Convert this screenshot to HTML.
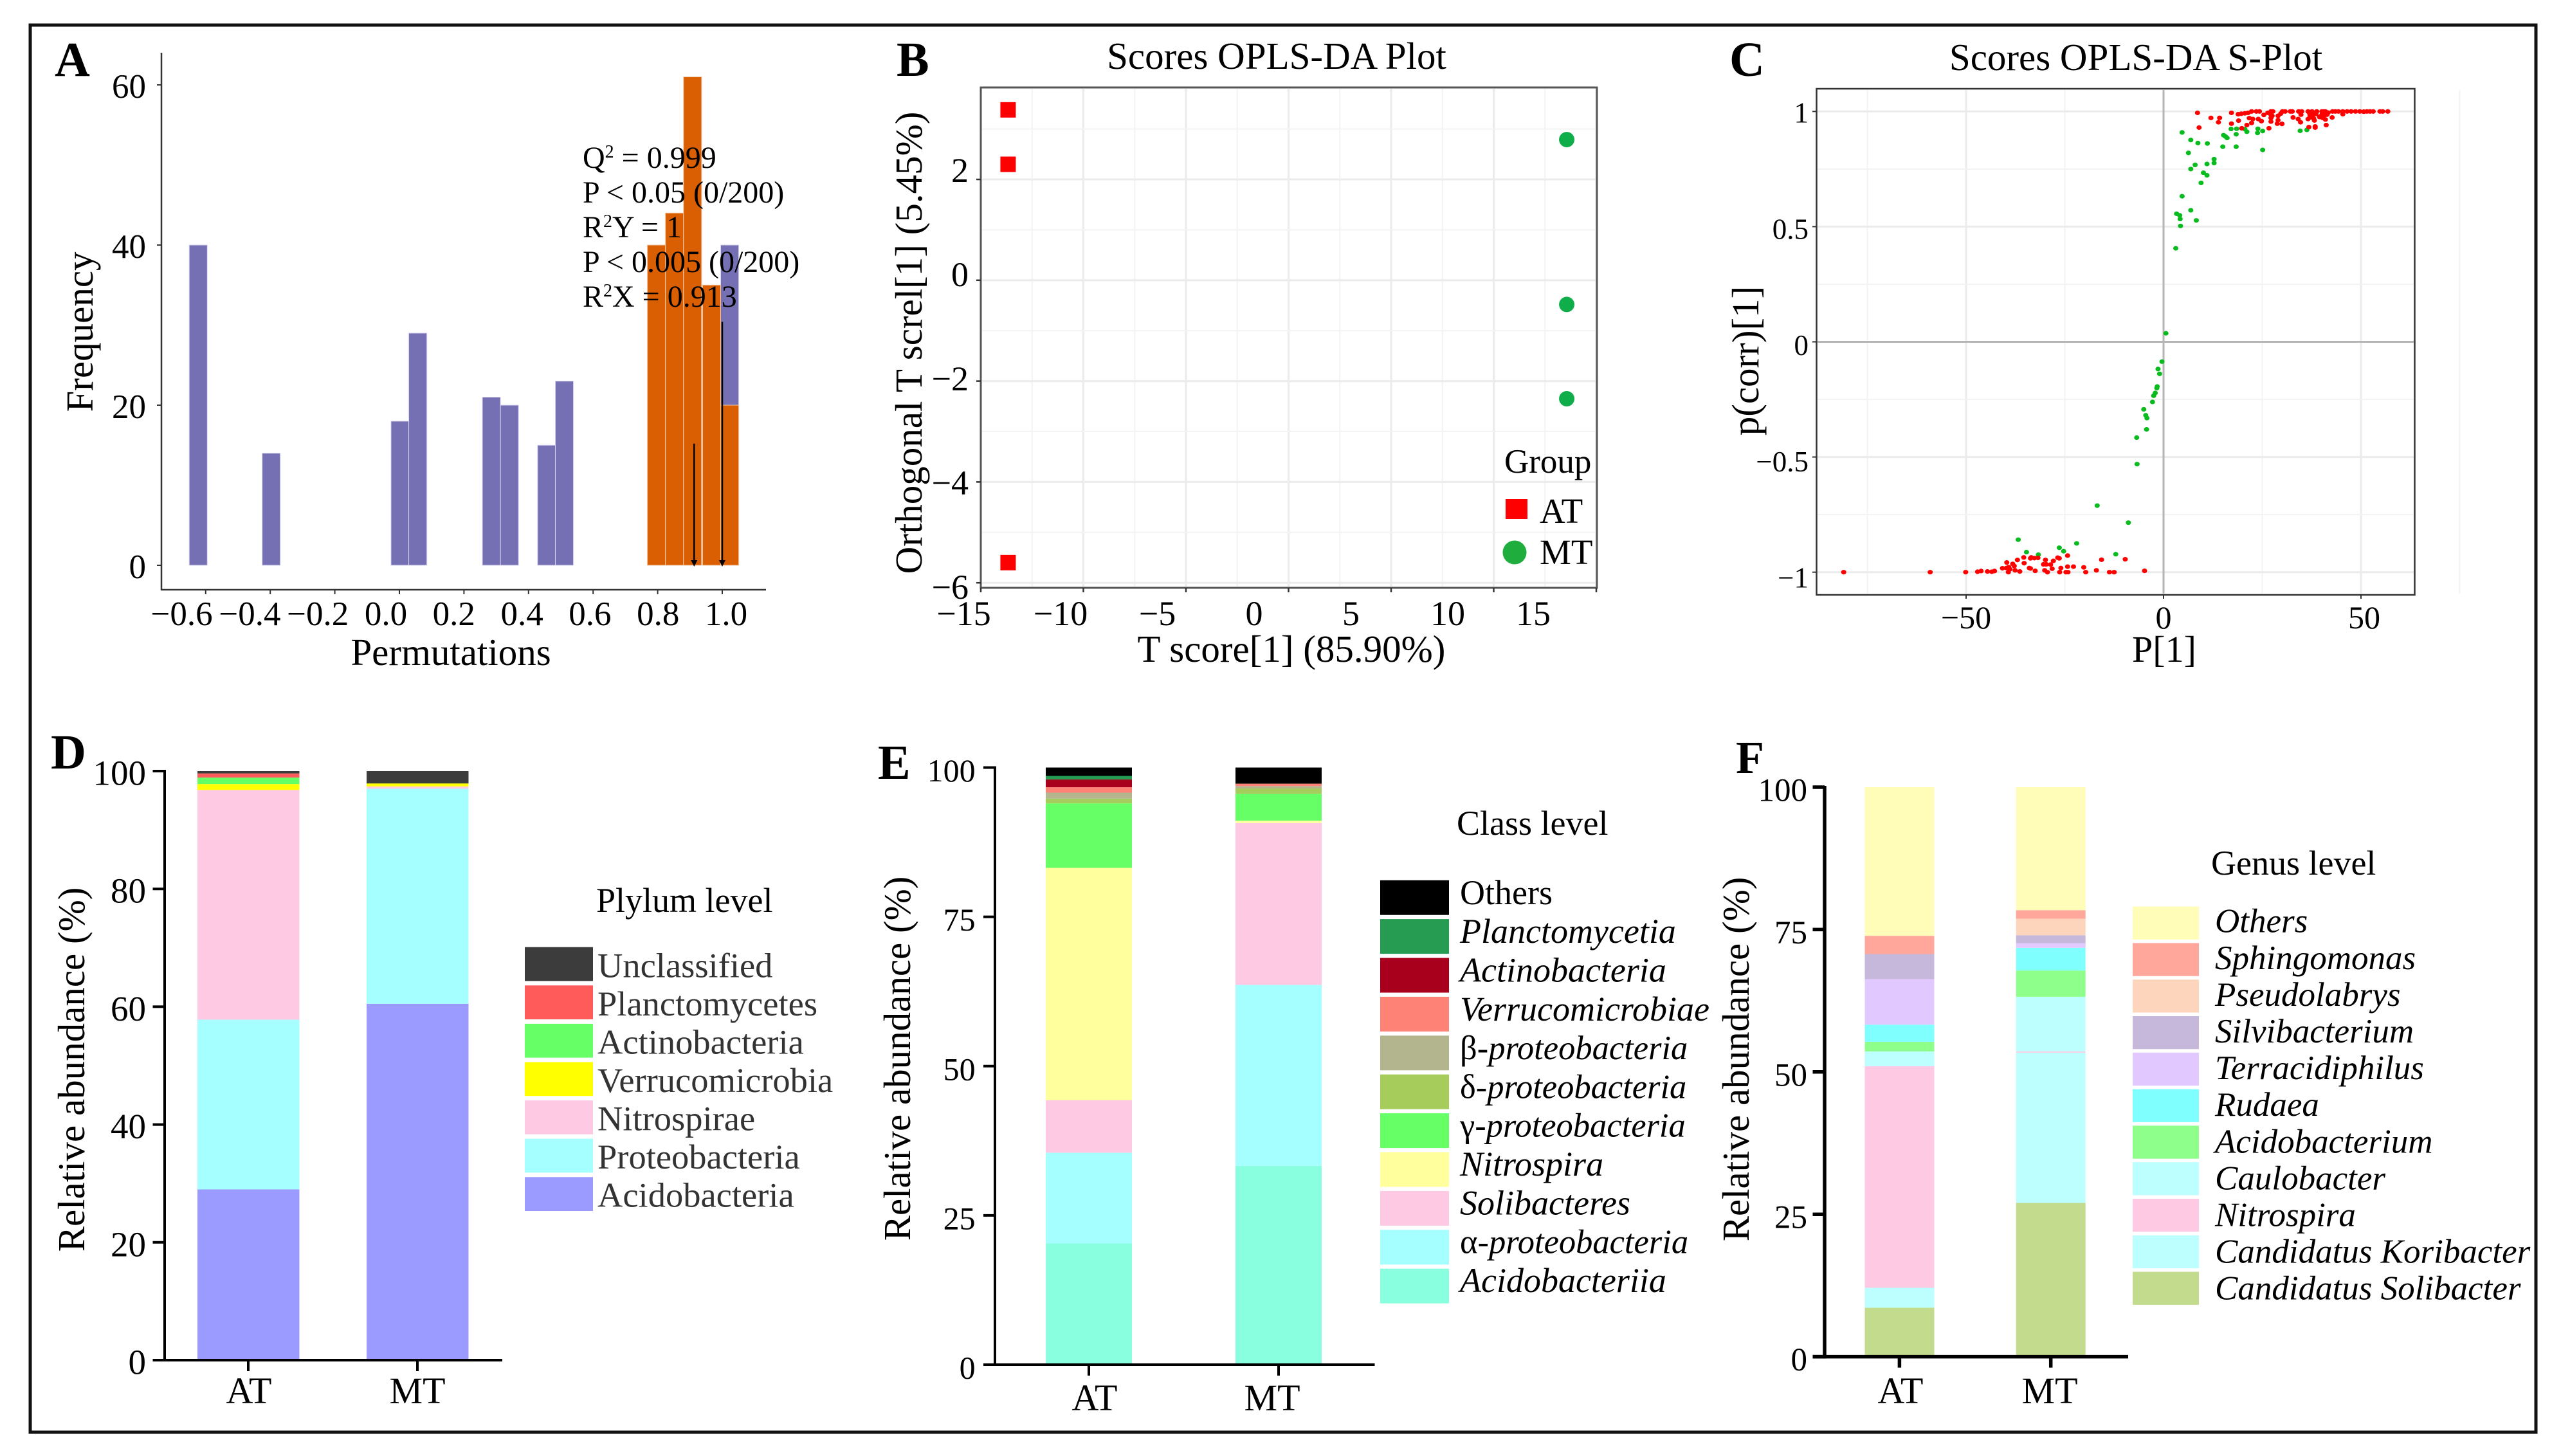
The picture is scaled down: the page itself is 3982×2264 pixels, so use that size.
<!DOCTYPE html>
<html lang="en">
<head>
<meta charset="utf-8">
<title>OPLS-DA and relative abundance figure</title>
<style>
html,body{margin:0;padding:0;background:#fff;width:3982px;height:2264px;overflow:hidden}
svg{display:block}
text{font-family:"Liberation Serif","DejaVu Serif",serif;fill:#000}
</style>
</head>
<body>
<svg id="fig" xmlns="http://www.w3.org/2000/svg" width="3982" height="2264" viewBox="0 0 3982 2264">
  <rect x="0" y="0" width="3982" height="2264" fill="#fff"/>
  <rect x="47" y="39" width="3896" height="2188" fill="none" stroke="#111" stroke-width="5"/>
  <g id="marks"></g>

  <!-- Panel letters -->
  <text x="85" y="118" font-size="76" font-weight="bold">A</text>
  <text x="1394" y="118" font-size="76" font-weight="bold">B</text>
  <text x="2689" y="118" font-size="76" font-weight="bold">C</text>
  <text x="79" y="1195" font-size="76" font-weight="bold">D</text>
  <text x="1365" y="1211" font-size="76" font-weight="bold">E</text>
  <text x="2699" y="1202" font-size="72" font-weight="bold">F</text>

  <!-- Panel A text -->
  <text transform="rotate(-90 144 516)" x="144" y="516" font-size="59" text-anchor="middle">Frequency</text>
  <text x="701" y="1034" font-size="59" text-anchor="middle">Permutations</text>
  <g font-size="48">
    <text x="906" y="261">Q<tspan font-size="28" dy="-16">2</tspan><tspan dy="16"> = 0.999</tspan></text>
    <text x="906" y="315">P &lt; 0.05 (0/200)</text>
    <text x="906" y="369">R<tspan font-size="28" dy="-16">2</tspan><tspan dy="16">Y = 1</tspan></text>
    <text x="906" y="423">P &lt; 0.005 (0/200)</text>
    <text x="906" y="477">R<tspan font-size="28" dy="-16">2</tspan><tspan dy="16">X = 0.913</tspan></text>
  </g>

  <!-- Panel B text -->
  <text x="1985" y="107" font-size="59" text-anchor="middle">Scores OPLS-DA Plot</text>
  <text x="2008" y="1029" font-size="59" text-anchor="middle">T score[1] (85.90%)</text>
  <text transform="rotate(-90 1433 533)" x="1433" y="533" font-size="59" text-anchor="middle">Orthogonal T screl[1] (5.45%)</text>
  <g>
    <text x="2339" y="735" font-size="53">Group</text>
    <rect x="2341" y="776" width="34" height="31" fill="#ff0000"/>
    <text x="2394" y="813" font-size="55">AT</text>
    <ellipse cx="2355" cy="859" rx="18.5" ry="18.5" fill="#1fae3e"/>
    <text x="2394" y="877" font-size="55">MT</text>
  </g>

  <!-- Panel C text -->
  <text x="3321" y="109" font-size="59" text-anchor="middle">Scores OPLS-DA S-Plot</text>
  <text x="3365" y="1029" font-size="58" text-anchor="middle">P[1]</text>
  <text transform="rotate(-90 2734 561)" x="2734" y="561" font-size="59" text-anchor="middle">p(corr)[1]</text>

  <!-- Panel D/E/F static text -->
  <text transform="rotate(-90 131 1663)" x="131" y="1663" font-size="59" text-anchor="middle">Relative abundance (%)</text>
  <text x="927" y="1418" font-size="54">Plylum level</text>
  <text transform="rotate(-90 1415 1646)" x="1415" y="1646" font-size="59" text-anchor="middle">Relative abundance (%)</text>
  <text x="2265" y="1298" font-size="54">Class level</text>
  <text transform="rotate(-90 2719 1647)" x="2719" y="1647" font-size="59" text-anchor="middle">Relative abundance (%)</text>
  <text x="3438" y="1360" font-size="54">Genus level</text>
</svg>

<script>
/* ---------- Panel A data ---------- */
const permPurpleBins = [-0.623, -0.397, 0.002, 0.057, 0.285, 0.341, 0.456, 0.511, 1.023];
const permPurpleCounts = [40, 14, 18, 29, 21, 20, 15, 23, 40];
const permOrangeBins = [0.796, 0.852, 0.908, 0.967, 1.023];
const permOrangeCounts = [40, 44, 61, 35, 20];
const permBinWidth = 0.056;
const permArrowValues = [0.913, 1.0];
const permArrowHeights = [15.2, 30.4];
const permXTicks = [-0.6, -0.4, -0.2, 0, 0.2, 0.4, 0.6, 0.8, 1.0];
const permYTicks = [0, 20, 40, 60];

/* ---------- Panel B data ---------- */
const scoreAtT = [-13.67, -13.67, -13.67];
const scoreAtO = [3.38, 2.30, -5.60];
const scoreMtT = [13.56, 13.56, 13.56];
const scoreMtO = [2.79, -0.48, -2.35];
const scoreXTicks = [-15, -10, -5, 0, 5, 10, 15];
const scoreYTicks = [2, 0, -2, -4, -6];

/* ---------- Panel C data ---------- */
const sGreenP = [4.7,6.9,8.7,11.1,6.3,8.0,11.0,12.8,12.8,6.9,10.1,11.0,9.5,4.7,6.9,3.3,4.1,4.2,8.3,4.3,3.1,15.0,18.4,25.1,15.2,15.7,16.1,17.1,18.5,18.4,20.6,21.1,23.8,23.9,25.1,34.6,36.3,
  0.6,-0.4,-1.4,-1.0,-1.6,-1.7,-2.1,-2.5,-2.8,-5.0,-4.5,-4.2,-4.3,-6.8,-6.7,-16.8,-8.9,-36.8,-22.0,-26.4,-25.3,-34.7,-31.7,-12.1];
const sGreenCorr = [0.909,0.876,0.863,0.861,0.820,0.768,0.772,0.793,0.776,0.750,0.734,0.723,0.690,0.632,0.571,0.556,0.549,0.533,0.527,0.503,0.406,0.847,0.847,0.833,0.897,0.891,0.885,0.924,0.925,0.901,0.923,0.912,0.907,0.925,0.915,0.916,0.920,
  0.037,-0.086,-0.118,-0.139,-0.194,-0.201,-0.222,-0.234,-0.261,-0.293,-0.319,-0.331,-0.380,-0.416,-0.531,-0.711,-0.785,-0.859,-0.875,-0.894,-0.909,-0.913,-0.924,-0.922];
const sRedP = [-81.0,-59.1,-50.1,-47.1,-46.2,-44.6,-43.5,-42.8,-40.8,-39.7,-39.8,-39.2,-38.9,-39.3,-38.2,-37.8,-37.6,-37.0,-36.4,-35.4,-35.3,-34.0,-33.7,-33.7,-33.5,-32.5,-32.7,-31.8,-30.4,-30.1,-29.4,-29.9,-29.7,-28.6,-28.2,-27.9,-26.8,-26.4,-26.3,-26.0,-24.7,-24.2,-24.3,-24.3,-22.8,-20.2,-19.7,-17.0,-15.7,-13.7,-12.5,-9.7,-4.8,
  8.6,12.0,14.2,13.9,9.0,17.2,17.2,19.0,19.8,21.1,22.3,21.7,22.6,24.0,24.8,26.7,18.9,19.7,20.6,21.4,22.3,23.5,24.3,25.4,26.4,27.2,27.7,27.2,27.2,27.5,27.2,29.0,29.0,28.8,30.0,29.7,30.1,30.8,32.1,32.6,32.8,34.1,34.7,34.2,35.0,34.8,36.8,38.4,38.4,41.2,38.2,36.6,37.0,36.6,37.1,37.6,37.9,38.8,38.6,40.1,40.6,40.3,40.1,41.0,40.6,41.4,41.7,42.7,42.8,43.5,44.3,45.4,45.4,46.5,47.5,48.6,49.7,50.7,51.5,52.3,53.1,54.8,55.5,56.8,37.3,38.0,39.5,41.0];
const sRedCorr = [-1,-1,-1,-0.998,-0.995,-0.997,-0.998,-0.995,-0.983,-0.958,-0.982,-0.978,-0.987,-1,-0.964,-0.973,-0.992,-0.947,-0.997,-0.936,-0.961,-0.982,-0.984,-0.940,-0.936,-0.994,-0.939,-0.938,-0.966,-0.992,-1,-0.947,-0.966,-0.967,-0.985,-0.951,-0.937,-0.940,-1,-0.982,-1,-1,-0.976,-0.928,-0.976,-0.979,-1,-0.992,-0.946,-1,-1,-0.944,-0.994,
  0.994,0.972,0.972,0.953,0.930,0.994,0.947,0.960,0.927,0.941,0.950,0.971,0.967,0.967,0.958,0.927,0.988,0.990,0.992,0.994,1,1,1,0.985,0.994,1,1,0.986,0.972,0.981,0.956,0.981,0.962,0.947,0.946,0.991,1,1,1,1,0.974,0.967,0.953,1,1,0.986,0.932,0.935,0.930,0.941,0.961,1,0.991,0.967,0.981,1,0.986,1,0.989,1,1,0.972,0.986,1,0.981,0.986,0.995,0.974,1,1,1,1,0.988,1,1,1,1,0.999,1,1,1,1,1,1,0.975,0.970,0.976,0.965];
const sXTicks = [-50, 0, 50];
const sYTicks = [1, 0.5, 0, -0.5, -1];

/* ---------- Panel D data ---------- */
const groupNames = ['AT', 'MT'];
const phylumNames = ['Acidobacteria','Proteobacteria','Nitrospirae','Verrucomicrobia','Actinobacteria','Planctomycetes','Unclassified'];
const phylumAT = [29.0, 28.8, 39.0, 1.0, 1.1, 0.7, 0.4];
const phylumMT = [60.5, 36.5, 0.4, 0.5, 0, 0, 2.1];
const phylumTicks = [0, 20, 40, 60, 80, 100];

/* ---------- Panel E data ---------- */
const classNames = ['Acidobacteriia','α-proteobacteria','Solibacteres','Nitrospira','γ-proteobacteria','δ-proteobacteria','β-proteobacteria','Verrucomicrobiae','Actinobacteria','Planctomycetia','Others'];
const classAT = [20.3, 15.2, 8.8, 38.9, 10.8, 0.8, 1.0, 0.9, 1.3, 0.6, 1.4];
const classMT = [33.3, 30.3, 27.1, 0.4, 4.5, 0.9, 0.4, 0.4, 0, 0, 2.7];
const classTicks = [0, 25, 50, 75, 100];

/* ---------- Panel F data ---------- */
const genusNames = ['Candidatus Solibacter','Candidatus Koribacter','Nitrospira','Caulobacter','Acidobacterium','Rudaea','Terracidiphilus','Silvibacterium','Pseudolabrys','Sphingomonas','Others'];
const genusAT = [8.6, 3.5, 38.9, 2.6, 1.7, 3.0, 8.0, 4.4, 0, 3.2, 26.1];
const genusMT = [27.0, 26.4, 0.2, 9.6, 4.6, 4.0, 0.8, 1.4, 2.9, 1.5, 21.6];
const genusTicks = [0, 25, 50, 75, 100];

/* ---------- helpers ---------- */
const NS = 'http://www.w3.org/2000/svg';
const marks = document.getElementById('marks');
function el(tag, attrs) {
  const e = document.createElementNS(NS, tag);
  for (const k in attrs) e.setAttribute(k, attrs[k]);
  marks.appendChild(e);
  return e;
}
function scale(d0, d1, r0, r1) {
  return function (v) { return r0 + (v - d0) / (d1 - d0) * (r1 - r0); };
}
function fmt(v) { return String(v).replace('-', '\u2212'); }
function seg(x1, y1, x2, y2, stroke, w) {
  return el('line', {x1: x1, y1: y1, x2: x2, y2: y2, stroke: stroke, 'stroke-width': w});
}
function txt(s, x, y, size, anchor) {
  const t = el('text', {x: x, y: y, 'font-size': size, 'text-anchor': anchor});
  t.textContent = s;
  return t;
}

/* ---------- Panel A ---------- */
(function () {
  const x = scale(0, 1, 621, 1123);
  const y = scale(0, 60, 879, 132);
  const labelX = function (v) { return 600 + 529 * v; };
  permPurpleBins.forEach(function (c, i) {
    const r = el('rect', {x: x(c - permBinWidth / 2), y: y(permPurpleCounts[i]), width: x(c + permBinWidth / 2) - x(c - permBinWidth / 2), height: y(0) - y(permPurpleCounts[i]), fill: '#7570b3', stroke: '#d8d6ee', 'stroke-width': 1});
    
    
  });
  permOrangeBins.forEach(function (c, i) {
    const r = el('rect', {x: x(c - permBinWidth / 2), y: y(permOrangeCounts[i]), width: x(c + permBinWidth / 2) - x(c - permBinWidth / 2), height: y(0) - y(permOrangeCounts[i]), fill: '#d95f02', stroke: '#f0c8a8', 'stroke-width': 1});
    
    
  });
  permArrowValues.forEach(function (v, i) {
    const l = seg(x(v), y(permArrowHeights[i]), x(v), y(0) - 4, '#000', 2.5);
    
    
    const h = el('polygon', {points: (x(v) - 5) + ',' + (y(0) - 8) + ' ' + (x(v) + 5) + ',' + (y(0) - 8) + ' ' + x(v) + ',' + (y(0) + 2), fill: '#000'});
    
    
  });
  const ya = seg(251, 82, 251, 918, '#333', 2.5);
  
  
  const xa = seg(250, 917, 1191, 917, '#333', 2.5);
  
  
  permYTicks.forEach(function (v) {
    const t = seg(244, y(v), 251, y(v), '#333', 2);
    
    
    const l = txt(fmt(v), 227, y(v) + 20, 53, 'end');
    
    
  });
  permXTicks.forEach(function (v) {
    const t = seg(x(v), 917, x(v), 924, '#333', 2);
    
    
    const l = txt(fmt(v.toFixed(1)), labelX(v), 972, 53, 'middle');
    
    
  });
})();

/* ---------- Panel B ---------- */
(function () {
  const x = scale(-15, 15, 1525, 2482);
  const y = scale(0, 2, 435.8, 279);
  const labelX = function (v) { return Math.min(1950 + 30.1 * v, 2384); };
  const labelY = function (v) { return 445 - 81 * v; };
  for (let g = -15; g <= 15; g += 2.5) {
    const major = g % 5 === 0;
    const l = seg(x(g), 138, x(g), 912, major ? '#ebebeb' : '#f3f3f3', major ? 3 : 2);
    
    
  }
  for (let g = -6; g <= 3; g += 1) {
    const major = g % 2 === 0;
    const l = seg(1527, y(g), 2482, y(g), major ? '#ebebeb' : '#f3f3f3', major ? 3 : 2);
    
    
  }
  const box = el('rect', {x: 1525, y: 136, width: 958, height: 778, fill: 'none', stroke: '#555', 'stroke-width': 3});
  
  
  scoreXTicks.forEach(function (v) {
    const t = seg(x(v), 914, x(v), 921, '#333', 2.5);
    
    
    const l = txt(fmt(v), labelX(v), 972, 54, 'middle');
    
    
  });
  scoreYTicks.forEach(function (v) {
    const t = seg(1518, y(v), 1525, y(v), '#333', 2.5);
    
    
    const l = txt(fmt(v), 1506, labelY(v), 54, 'end');
    
    
  });
  scoreAtT.forEach(function (t, i) {
    const p = el('rect', {x: x(t) - 12, y: y(scoreAtO[i]) - 12, width: 24, height: 24, fill: '#ff0000'});
    
    
  });
  scoreMtT.forEach(function (t, i) {
    const p = el('circle', {cx: x(t), cy: y(scoreMtO[i]), r: 12, fill: '#0fae4b'});
    
    
  });
})();

/* ---------- Panel C ---------- */
(function () {
  const x = scale(0, 50, 3364, 3671);
  const y = scale(0, 1, 531.5, 173.3);
  [-75, -50, -25, 25, 50, 75].forEach(function (g) {
    const major = g % 50 === 0;
    const l = seg(x(g), 140, x(g), 923, major ? '#ebebeb' : '#f3f3f3', major ? 3 : 2);
    
    
  });
  [-1, -0.75, -0.5, -0.25, 0.25, 0.5, 0.75, 1].forEach(function (g) {
    const major = g % 0.5 === 0;
    const l = seg(2826, y(g), 3753, y(g), major ? '#ebebeb' : '#f3f3f3', major ? 3 : 2);
    
    
  });
  const zx = seg(x(0), 140, x(0), 923, '#b5b5b5', 3);
  
  
  const zy = seg(2826, y(0), 3753, y(0), '#b5b5b5', 3);
  
  
  const box = el('rect', {x: 2824.5, y: 138, width: 930, height: 787, fill: 'none', stroke: '#333', 'stroke-width': 2.5});
  
  
  sGreenP.forEach(function (p, i) {
    const c = el('ellipse', {cx: x(p), cy: y(sGreenCorr[i]), rx: 4, ry: 3.6, fill: '#09bb1f'});
    
    
  });
  sRedP.forEach(function (p, i) {
    const c = el('ellipse', {cx: x(p), cy: y(sRedCorr[i]), rx: 4, ry: 3.6, fill: '#ff0000'});
    
    
  });
  sXTicks.forEach(function (v) {
    const t = seg(x(v), 925, x(v), 931, '#333', 2);
    
    
    const l = txt(fmt(v), x(v) + (v > 0 ? 5 : 0), 977, 50, 'middle');
    
    
  });
  sYTicks.forEach(function (v) {
    const t = seg(2818, y(v), 2824.5, y(v), '#333', 2);
    
    
    const l = txt(fmt(v), 2812, 552 - 361.5 * v, 45, 'end');
    
    
  });
})();

/* ---------- Panels D, E, F: stacked bars ---------- */
function drawStackPanel(c) {
  const y = scale(0, c.yMax, c.yBottom, c.yTop);
  [c.atValues, c.mtValues].forEach(function (vals, g) {
    let cum = 0;
    vals.forEach(function (v, i) {
      if (v <= 0) return;
      const top = y(cum + v);
      const bot = y(cum);
      const r = el('rect', {x: c.barX[g], y: top, width: c.barW, height: bot - top, fill: c.colors[i]});
      
      
      cum += v;
    });
  });
  const ya = seg(c.axisX, c.yTop - 2, c.axisX, c.yBottom + c.axisW / 2, '#000', c.axisW);
  
  
  const xa = seg(c.tickLeft, c.yBottom, c.axisEnd, c.yBottom, '#000', c.axisW);
  
  
  c.ticks.forEach(function (v) {
    const t = seg(c.tickLeft, y(v), c.axisX, y(v), '#000', c.axisW);
    
    
    const l = txt(fmt(v), c.labelRight, y(v) + 21.5, c.tickFont, 'end');
    
    
  });
  groupNames.forEach(function (name, g) {
    const t = seg(c.tickX[g], c.yBottom, c.tickX[g], c.yBottom + 17, '#000', c.axisW);
    
    
    const l = txt(name, c.catLabelX[g], c.catBaseline, 58, 'middle');
    
    
  });
  const n = c.names.length;
  for (let k = 0; k < n; k++) {
    const idx = n - 1 - k;
    const sw = el('rect', {x: c.swX, y: c.swTop + k * c.swPitch, width: c.swW, height: c.swH, fill: c.colors[idx]});
    
    
    const name = c.names[idx];
    const t = el('text', {x: c.legX, y: c.legBase + k * c.legPitch, 'font-size': c.legFont});
    
    
    if (c.legFill) t.style.fill = c.legFill;
    if (c.italic && !(c.uprightOthers && name === 'Others')) {
      if (/^[αβγδ]/.test(name)) {
        t.setAttribute('font-size', c.legFont - 1.5);
        const a = document.createElementNS(NS, 'tspan');
        a.textContent = name.charAt(0);
        t.appendChild(a);
        const b = document.createElementNS(NS, 'tspan');
        b.setAttribute('font-style', 'italic');
        b.textContent = name.slice(1);
        t.appendChild(b);
      } else {
        t.setAttribute('font-style', 'italic');
        t.textContent = name;
      }
    } else {
      t.textContent = name;
    }
  }
}

drawStackPanel({
  key: 'd', names: phylumNames, atValues: phylumAT, mtValues: phylumMT, ticks: phylumTicks, yMax: 100,
  colors: ['#9b9bff', '#a6ffff', '#fdc9e3', '#ffff00', '#66ff66', '#ff5b5b', '#3c3c3c'],
  yTop: 1199, yBottom: 2115, axisX: 256, tickLeft: 237.5, axisEnd: 781, axisW: 4,
  barX: [307, 570], barW: 158.5, tickX: [386, 649], catLabelX: [387, 649], catBaseline: 2182,
  labelRight: 227, tickFont: 55,
  swX: 816, swW: 106, swTop: 1472.7, swH: 52.7, swPitch: 59.6,
  legX: 929, legBase: 1519.4, legPitch: 59.5, legFont: 54.5, legFill: '#333', italic: false
});
drawStackPanel({
  key: 'e', names: classNames, atValues: classAT, mtValues: classMT, ticks: classTicks, yMax: 100,
  colors: ['#8affdf', '#a6ffff', '#fdc9e3', '#ffff9e', '#66ff66', '#a6cc5c', '#b3b58f', '#ff8277', '#a8001c', '#259c52', '#000000'],
  yTop: 1193.5, yBottom: 2122, axisX: 1547, tickLeft: 1529, axisEnd: 2137.5, axisW: 4,
  barX: [1626, 1921], barW: 134, tickX: [1693, 1988], catLabelX: [1702, 1978], catBaseline: 2193,
  labelRight: 1516.6, tickFont: 50,
  swX: 2146, swW: 107, swTop: 1368.7, swH: 54, swPitch: 60.4,
  legX: 2270, legBase: 1405.9, legPitch: 60.3, legFont: 54, italic: true, uprightOthers: true
});
drawStackPanel({
  key: 'f', names: genusNames, atValues: genusAT, mtValues: genusMT, ticks: genusTicks, yMax: 100,
  colors: ['#c2db8c', '#bdffff', '#fdc9e3', '#bdffff', '#8fff8c', '#80ffff', '#e1c9ff', '#c6b8db', '#fdd5bc', '#ffa79a', '#fffdb8'],
  yTop: 1224, yBottom: 2109.6, axisX: 2837, tickLeft: 2818.5, axisEnd: 3309, axisW: 5.5,
  barX: [2899.5, 3134.7], barW: 108, tickX: [2953.4, 3188.7], catLabelX: [2955, 3187], catBaseline: 2182,
  labelRight: 2810, tickFont: 51,
  swX: 3316, swW: 103, swTop: 1409.6, swH: 51.3, swPitch: 56.8,
  legX: 3444, legBase: 1449.7, legPitch: 57.1, legFont: 53, italic: true, uprightOthers: false
});
</script>
</body>
</html>
